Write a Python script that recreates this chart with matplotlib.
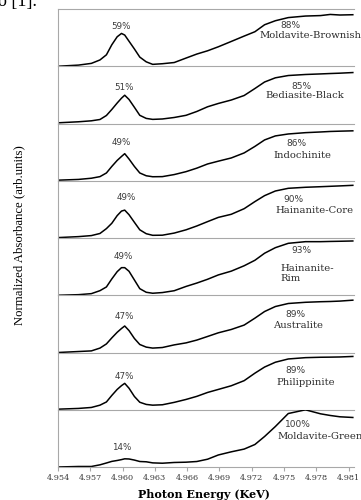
import matplotlib
matplotlib.use('Agg')
import matplotlib.pyplot as plt

# photon energy grid (keV)
energy = [4.9540, 4.9559, 4.9571, 4.9579, 4.9585, 4.9590, 4.9595, 4.9599, 4.9602,
          4.9606, 4.9611, 4.9616, 4.9622, 4.9628, 4.9637, 4.9648, 4.9659, 4.9669,
          4.9679, 4.9689, 4.9701, 4.9713, 4.9723, 4.9732, 4.9742, 4.9754, 4.9770,
          4.9784, 4.9793, 4.9802, 4.9814]

moldavite_brownish = [0.00, 0.02, 0.05, 0.11, 0.20, 0.375, 0.515, 0.573, 0.545, 0.437,
                      0.302, 0.16, 0.077, 0.033, 0.044, 0.065, 0.143, 0.213, 0.27, 0.34,
                      0.433, 0.527, 0.603, 0.725, 0.795, 0.85, 0.877, 0.885, 0.905, 0.895, 0.90]
bediasite_black = [0.012, 0.03, 0.047, 0.07, 0.14, 0.245, 0.358, 0.442, 0.494, 0.42,
                   0.283, 0.143, 0.089, 0.072, 0.079, 0.105, 0.143, 0.21, 0.292, 0.35,
                   0.41, 0.489, 0.611, 0.725, 0.798, 0.838, 0.856, 0.866, 0.873, 0.879, 0.89]
indochinite = [0.01, 0.023, 0.044, 0.072, 0.136, 0.25, 0.355, 0.424, 0.473, 0.38,
               0.25, 0.136, 0.087, 0.07, 0.072, 0.108, 0.159, 0.22, 0.293, 0.342,
               0.398, 0.486, 0.60, 0.713, 0.783, 0.817, 0.84, 0.852, 0.861, 0.866, 0.872]
hainanite_core = [0.007, 0.024, 0.042, 0.079, 0.164, 0.257, 0.391, 0.47, 0.487, 0.407,
                  0.274, 0.143, 0.075, 0.047, 0.049, 0.086, 0.143, 0.21, 0.286, 0.36,
                  0.414, 0.512, 0.636, 0.74, 0.821, 0.868, 0.886, 0.896, 0.903, 0.91, 0.92]
hainanite_rim = [0.0, 0.01, 0.028, 0.08, 0.145, 0.285, 0.412, 0.482, 0.482, 0.419,
                 0.267, 0.115, 0.052, 0.035, 0.047, 0.079, 0.154, 0.213, 0.279, 0.355,
                 0.421, 0.515, 0.611, 0.734, 0.831, 0.907, 0.936, 0.936, 0.94, 0.943, 0.948]
australite = [0.0, 0.017, 0.028, 0.077, 0.15, 0.255, 0.353, 0.419, 0.463, 0.383,
              0.245, 0.14, 0.094, 0.077, 0.087, 0.133, 0.168, 0.217, 0.28, 0.344,
              0.402, 0.479, 0.60, 0.716, 0.803, 0.856, 0.877, 0.887, 0.891, 0.898, 0.914]
philippinite = [0.01, 0.023, 0.04, 0.08, 0.136, 0.25, 0.355, 0.421, 0.461, 0.376,
                0.232, 0.131, 0.093, 0.08, 0.087, 0.129, 0.18, 0.234, 0.302, 0.355,
                0.419, 0.508, 0.639, 0.746, 0.83, 0.887, 0.91, 0.917, 0.919, 0.922, 0.931]
moldavite_green = [0.0, 0.009, 0.009, 0.038, 0.07, 0.098, 0.114, 0.129, 0.143, 0.14,
                   0.121, 0.096, 0.091, 0.072, 0.066, 0.079, 0.084, 0.096, 0.136, 0.21,
                   0.265, 0.313, 0.393, 0.533, 0.707, 0.934, 0.999, 0.929, 0.90, 0.877, 0.865]

spectra = [moldavite_brownish, bediasite_black, indochinite, hainanite_core,
           hainanite_rim, australite, philippinite, moldavite_green]
names = ['Moldavite-Brownish', 'Bediasite-Black', 'Indochinite', 'Hainanite-Core',
         'Hainanite-\nRim', 'Australite', 'Philippinite', 'Moldavite-Green']
peak_pct = ['59%', '51%', '49%', '49%', '49%', '47%', '47%', '14%']
edge_pct = ['88%', '85%', '86%', '90%', '93%', '89%', '89%', '100%']
xticks = [4.954, 4.957, 4.960, 4.963, 4.966, 4.969, 4.972, 4.975, 4.978, 4.981]

# label placement (energy, height in panel units)
peak_pos = [(4.95988, 0.70), (4.96013, 0.624), (4.95988, 0.664), (4.96035, 0.706),
            (4.96004, 0.674), (4.9602, 0.629), (4.9602, 0.582), (4.95988, 0.346)]
edge_pos = [(4.97556, 0.72), (4.97665, 0.641), (4.97618, 0.652), (4.97587, 0.664),
            (4.97665, 0.774), (4.97603, 0.659), (4.97603, 0.686), (4.97633, 0.737)]
name_pos = [(4.97271, 0.545, 'left'), (4.97696, 0.484, 'center'), (4.97672, 0.437, 'center'),
            (4.97786, 0.489, 'center'), (4.97463, 0.381, 'left'), (4.97631, 0.466, 'center'),
            (4.97705, 0.482, 'center'), (4.97442, 0.533, 'left')]

W, H = 361, 500
fig = plt.figure(figsize=(W / 100, H / 100), dpi=100)
fig.patch.set_facecolor('white')

left, right = 58, 353.9
top0, ph = 9, 57.25
spine_c = '#a8a8a8'

for i, spec in enumerate(spectra):
    top = top0 + i * ph
    ax = fig.add_axes([left / W, 1 - (top + ph) / H, (right - left) / W, ph / H])
    ax.plot(energy, spec, color='black', lw=1.1, solid_joinstyle='round')
    ax.set_xlim(4.954, 4.9815)
    ax.set_ylim(0, 1)
    ax.set_yticks([])
    ax.spines['right'].set_visible(False)
    ax.spines['top'].set_visible(i == 0)
    for s in ['left', 'bottom', 'top']:
        ax.spines[s].set_color(spine_c)
        ax.spines[s].set_linewidth(0.8)
    ax.patch.set_alpha(0)

    px, py = peak_pos[i]
    ax.text(px, py, peak_pct[i], ha='center', va='center', fontsize=6.3,
            family='DejaVu Sans', color='#3c3c3c')
    ex, ey = edge_pos[i]
    ax.text(ex, ey, edge_pct[i], ha='center', va='center', fontsize=6.5,
            family='DejaVu Sans', color='#3c3c3c')
    nx, ny, nha = name_pos[i]
    ax.text(nx, ny, names[i], ha=nha, va='center', fontsize=7.2,
            family='DejaVu Serif', color='#2a2a2a', linespacing=1.1)

    if i == len(spectra) - 1:
        ax.set_xticks(xticks)
        ax.set_xticklabels(['%.3f' % t for t in xticks], family='DejaVu Serif',
                           fontsize=5.9, color='#3a3a3a')
        ax.tick_params(axis='x', direction='out', length=3, width=0.8,
                       color=spine_c, pad=2)
    else:
        ax.set_xticks([])

fig.text(204 / W, 1 - 494 / H, 'Photon Energy (KeV)', ha='center', va='center',
         fontsize=8, fontweight='bold', family='DejaVu Serif')
fig.text(19 / W, 1 - 235 / H, 'Normalized Absorbance (arb.units)', ha='center',
         va='center', rotation=90, fontsize=9.2, family='Liberation Serif')
# clipped line of body text above the figure
fig.text(-2 / W, 1 - 6 / H, 'o [1].', ha='left', va='baseline', fontsize=13,
         family='Liberation Serif')

fig.savefig('out.png', dpi=100, facecolor='white')
